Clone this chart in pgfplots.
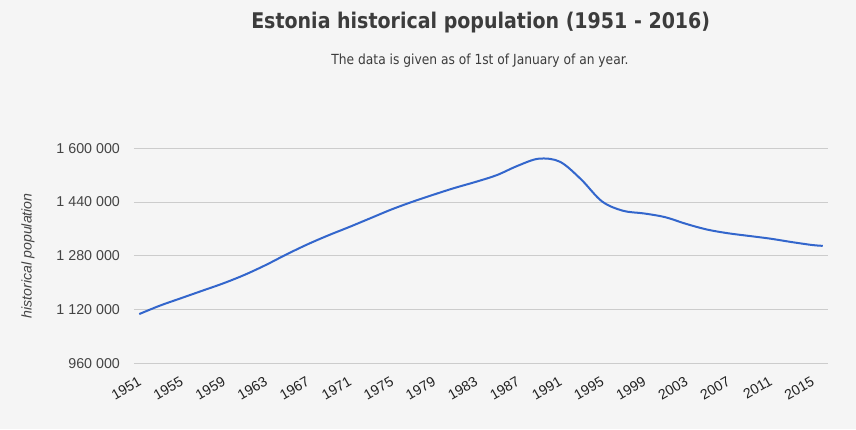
\documentclass[border=0pt]{standalone}
\usepackage{fontspec}
\setmainfont{Liberation Sans}
\newfontfamily\titlefont[FakeStretch=0.88]{DejaVu Sans}
\usepackage{pgfplots}
\pgfplotsset{compat=1.18}
\definecolor{bg}{HTML}{F5F5F5}
\definecolor{gridc}{HTML}{CCCCCC}
\definecolor{linec}{HTML}{3366CC}
\definecolor{txt}{HTML}{444444}
\definecolor{xtxt}{HTML}{222222}
\definecolor{ttl}{HTML}{3C3C3C}
\begin{document}
\begin{tikzpicture}
\fill[bg] (0,0) rectangle (642pt,321.75pt);
\path[use as bounding box] (0,0) rectangle (642pt,321.75pt);
\node[anchor=base, text=ttl, font=\titlefont\bfseries\fontsize{16.2pt}{19pt}\selectfont] at (360.5pt,300pt) {Estonia historical population (1951 - 2016)};
\node[anchor=base, text=ttl, font=\titlefont\fontsize{10.45pt}{12pt}\selectfont] at (360pt,273.5pt) {The data is given as of 1st of January of an year.};
\begin{axis}[
  at={(100.5pt,49.3pt)}, anchor=south west,
  scale only axis, width=520.5pt, height=161.25pt,
  xmin=1950.5, xmax=2016.5, ymin=960000, ymax=1600000,
  scaled y ticks=false,
  axis line style={draw=none}, tick style={draw=none},
  ymajorgrids, grid style={color=gridc, line width=0.75pt},
  ytick={960000,1120000,1280000,1440000,1600000},
  yticklabels={960 000,1 120 000,1 280 000,1 440 000,1 600 000},
  xtick={1951,1955,1959,1963,1967,1971,1975,1979,1983,1987,1991,1995,1999,2003,2007,2011,2015},
  xticklabels={1951,1955,1959,1963,1967,1971,1975,1979,1983,1987,1991,1995,1999,2003,2007,2011,2015},
  yticklabel style={font=\fontsize{10.7pt}{12pt}\selectfont, text=txt, xshift=-7pt},
  xticklabel style={font=\fontsize{10.6pt}{12pt}\selectfont, text=xtxt, rotate=30, anchor=north east, yshift=-4pt, xshift=-2.5pt},
  ylabel={historical population},
  ylabel style={at={(axis description cs:-0.1527,0.5)}, anchor=center, rotate=0, font=\itshape\fontsize{10.6pt}{12pt}\selectfont, text=txt},
]
\addplot[color=linec, line width=1.5pt, smooth, tension=0.55] coordinates {
(1951,1106500) (1953,1132000) (1955,1154000) (1957,1176000) (1959,1198000)
(1961,1223000) (1963,1252000) (1965,1284000) (1967,1314000) (1969,1341000)
(1971,1366000) (1973,1392000) (1975,1418000) (1977,1441000) (1979,1462000)
(1981,1482000) (1983,1500000) (1985,1520000) (1987,1548000) (1989,1569000)
(1991,1560000) (1993,1508000) (1995,1442000) (1997,1414000) (1999,1406000)
(2001,1395000) (2003,1375000) (2005,1358000) (2007,1347000) (2009,1339000)
(2011,1331000) (2013,1321000) (2015,1312000) (2016,1309500)
};
\end{axis}
\end{tikzpicture}
\end{document}
